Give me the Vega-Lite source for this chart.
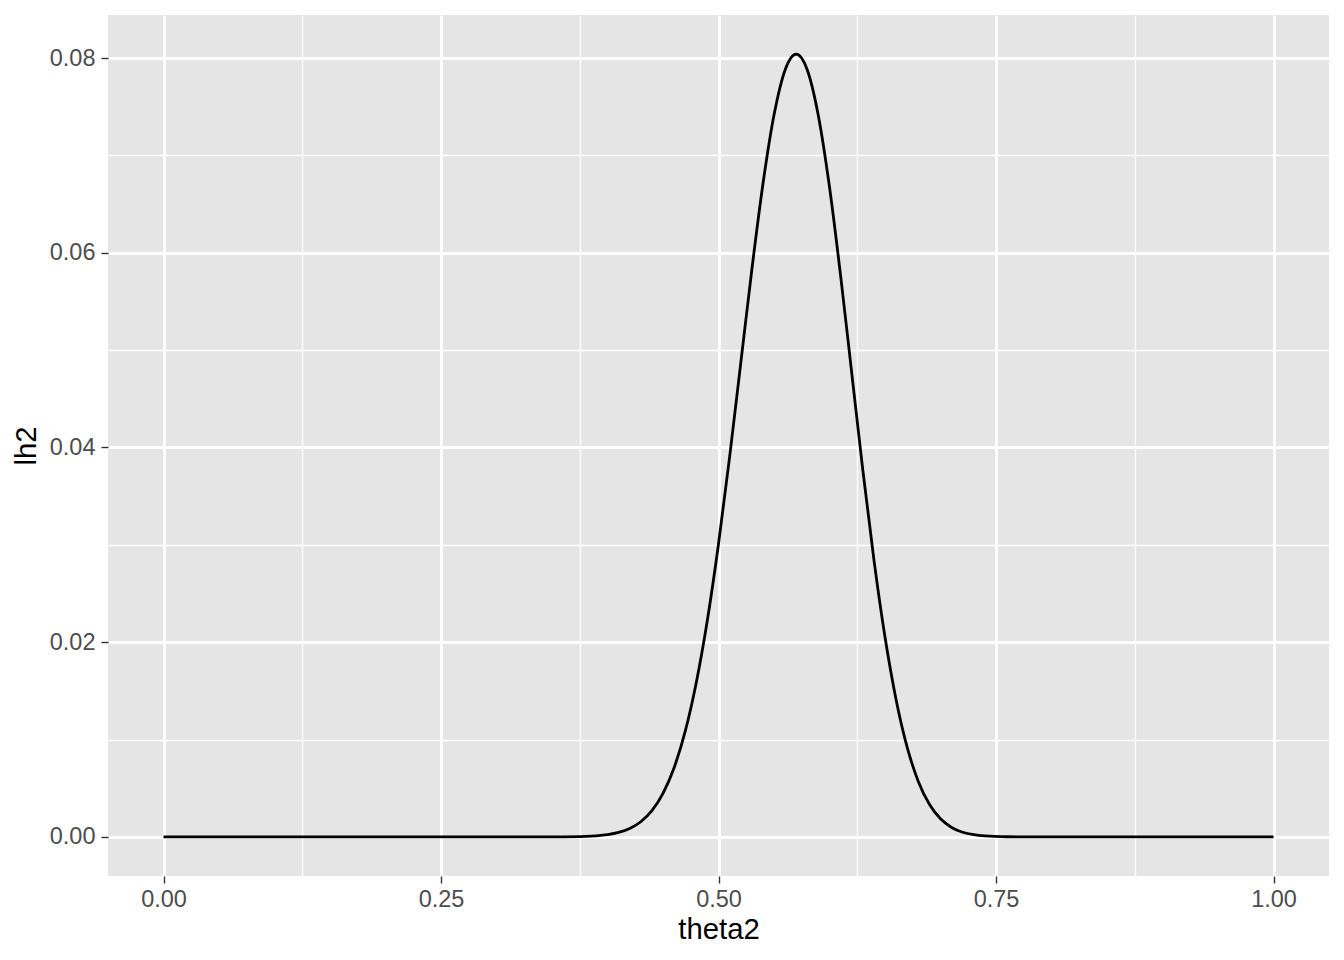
{
  "$schema": "https://vega.github.io/schema/vega-lite/v6.json",
  "width": 1221,
  "height": 861,
  "autosize": {"type": "none"},
  "padding": {"left": 108, "top": 15, "right": 15, "bottom": 84},
  "background": "white",
  "config": {
    "view": {"fill": "#E5E5E5", "stroke": null},
    "axis": {
      "labelFont": "Liberation Sans",
      "labelFontSize": 23.5,
      "labelColor": "#4D4D4D",
      "tickColor": "#333333",
      "tickSize": 7,
      "tickWidth": 1.4,
      "domain": false,
      "gridColor": "#FFFFFF",
      "gridWidth": 2.8,
      "gridOpacity": 1,
      "titleFont": "Liberation Sans",
      "titleFontSize": 29.3,
      "titleFontWeight": "normal",
      "titleColor": "#000000"
    }
  },
  "data": {
    "values": [
      {"theta2": 0.0, "lh2": 0},
      {"theta2": 0.1, "lh2": 0},
      {"theta2": 0.2, "lh2": 0},
      {"theta2": 0.3, "lh2": 0.00000002},
      {"theta2": 0.34, "lh2": 0.0000012},
      {"theta2": 0.36, "lh2": 0.00000905},
      {"theta2": 0.38, "lh2": 0.0000503},
      {"theta2": 0.39, "lh2": 0.00011},
      {"theta2": 0.40, "lh2": 0.000229},
      {"theta2": 0.41, "lh2": 0.000453},
      {"theta2": 0.42, "lh2": 0.000859},
      {"theta2": 0.43, "lh2": 0.001555},
      {"theta2": 0.44, "lh2": 0.002693},
      {"theta2": 0.45, "lh2": 0.004467},
      {"theta2": 0.46, "lh2": 0.007102},
      {"theta2": 0.47, "lh2": 0.01083},
      {"theta2": 0.48, "lh2": 0.01586},
      {"theta2": 0.49, "lh2": 0.02228},
      {"theta2": 0.50, "lh2": 0.03008},
      {"theta2": 0.51, "lh2": 0.03901},
      {"theta2": 0.52, "lh2": 0.04862},
      {"theta2": 0.53, "lh2": 0.05823},
      {"theta2": 0.54, "lh2": 0.06703},
      {"theta2": 0.55, "lh2": 0.07414},
      {"theta2": 0.56, "lh2": 0.07878},
      {"theta2": 0.57, "lh2": 0.0804},
      {"theta2": 0.58, "lh2": 0.07877},
      {"theta2": 0.59, "lh2": 0.07405},
      {"theta2": 0.60, "lh2": 0.06675},
      {"theta2": 0.61, "lh2": 0.05765},
      {"theta2": 0.62, "lh2": 0.04767},
      {"theta2": 0.63, "lh2": 0.0377},
      {"theta2": 0.64, "lh2": 0.02848},
      {"theta2": 0.65, "lh2": 0.02052},
      {"theta2": 0.66, "lh2": 0.01409},
      {"theta2": 0.67, "lh2": 0.009195},
      {"theta2": 0.68, "lh2": 0.005698},
      {"theta2": 0.69, "lh2": 0.003345},
      {"theta2": 0.70, "lh2": 0.001854},
      {"theta2": 0.71, "lh2": 0.000969},
      {"theta2": 0.72, "lh2": 0.000475},
      {"theta2": 0.73, "lh2": 0.000218},
      {"theta2": 0.74, "lh2": 0.0000936},
      {"theta2": 0.76, "lh2": 0.0000137},
      {"theta2": 0.78, "lh2": 0.0000015},
      {"theta2": 0.82, "lh2": 0.00000001},
      {"theta2": 0.9, "lh2": 0},
      {"theta2": 1.0, "lh2": 0}
    ]
  },
  "layer": [
    {
      "mark": {"type": "line", "strokeOpacity": 0},
      "encoding": {
        "x": {
          "field": "theta2", "type": "quantitative",
          "scale": {"domain": [-0.05, 1.05], "nice": false, "zero": false},
          "axis": {"orient": "top", "values": [0.125, 0.375, 0.625, 0.875], "grid": true, "gridWidth": 1.4, "labels": false, "ticks": false, "title": null}
        },
        "y": {
          "field": "lh2", "type": "quantitative",
          "scale": {"domain": [-0.00402, 0.08442], "nice": false, "zero": false},
          "axis": {"orient": "right", "values": [0.01, 0.03, 0.05, 0.07], "grid": true, "gridWidth": 1.4, "labels": false, "ticks": false, "title": null}
        }
      }
    },
    {
      "mark": {"type": "line", "color": "#000000", "strokeWidth": 2.8, "interpolate": "monotone"},
      "encoding": {
        "x": {
          "field": "theta2", "type": "quantitative",
          "scale": {"domain": [-0.05, 1.05], "nice": false, "zero": false},
          "axis": {"orient": "bottom", "values": [0, 0.25, 0.5, 0.75, 1], "format": ".2f", "grid": true, "labelPadding": 4, "titlePadding": 5, "title": "theta2"}
        },
        "y": {
          "field": "lh2", "type": "quantitative",
          "scale": {"domain": [-0.00402, 0.08442], "nice": false, "zero": false},
          "axis": {"orient": "left", "values": [0, 0.02, 0.04, 0.06, 0.08], "format": ".2f", "grid": true, "labelPadding": 6, "titlePadding": 8, "title": "lh2"}
        }
      }
    }
  ],
  "resolve": {"axis": {"x": "independent", "y": "independent"}}
}
